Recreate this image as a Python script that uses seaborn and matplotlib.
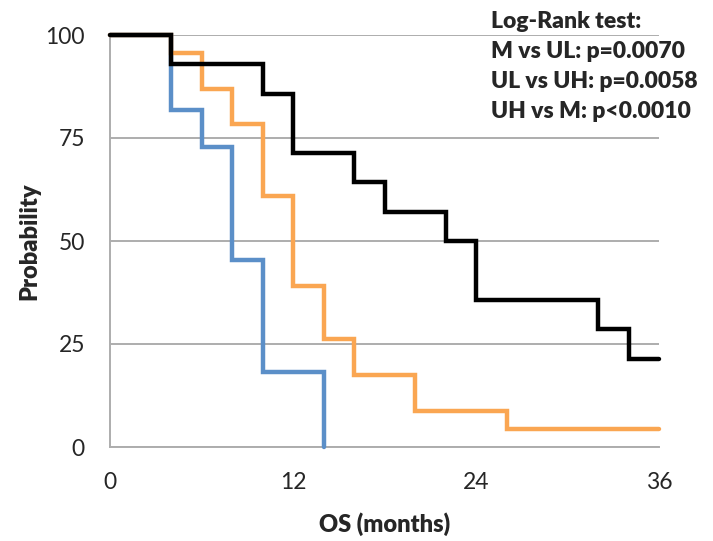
import matplotlib
matplotlib.use("Agg")
import matplotlib.pyplot as plt
import seaborn as sns
import pandas as pd

# ---- data ----
m_time = [0, 4, 10, 12, 16, 18, 22, 24, 32, 34, 36]
m_surv = [100, 92.9, 85.7, 71.4, 64.3, 57.1, 50.0, 35.7, 28.6, 21.4, 21.4]
ul_time = [0, 4, 6, 8, 10, 12, 14, 16, 20, 26, 36]
ul_surv = [100, 95.7, 87.0, 78.3, 60.9, 39.1, 26.1, 17.4, 8.7, 4.3, 4.3]
uh_time = [0, 4, 6, 8, 10, 14]
uh_surv = [100, 81.8, 72.7, 45.5, 18.2, 0]

x_ticks = [0, 12, 24, 36]
y_ticks = [0, 25, 50, 75, 100]
annot_lines = ["Log-Rank test:", "M vs UL: p=0.0070", "UL vs UH: p=0.0058", "UH vs M: p<0.0010"]

sns.set_style("white")
plt.rcParams['font.family'] = ['Lato', 'DejaVu Sans']

fig = plt.figure(figsize=(7.13, 5.41), dpi=100)
ax = fig.add_axes([110/713, (541-447)/541, 549/713, 412/541])

grid_c = "#ADADAD"
for y in y_ticks:
    ax.axhline(y, color=grid_c, lw=1.4, zorder=0)

series = [
    (uh_time, uh_surv, "#5B8FC8"),
    (ul_time, ul_surv, "#FAA652"),
    (m_time, m_surv, "#000000"),
]
for t, s, c in series:
    df = pd.DataFrame({"t": t, "s": s})
    sns.lineplot(data=df, x="t", y="s", ax=ax, color=c, lw=3.2,
                 drawstyle="steps-post", clip_on=False, zorder=3,
                 solid_joinstyle="miter")

ax.set_xlim(0, 36)
ax.set_ylim(0, 100)
ax.set_xticks(x_ticks)
ax.set_yticks(y_ticks)
ax.tick_params(axis="both", direction="out", length=6, width=1.4, color=grid_c,
               labelsize=16.5)
ax.tick_params(axis="x", pad=12)
ax.tick_params(axis="y", pad=12)
for side in ["top", "right"]:
    ax.spines[side].set_visible(False)
for side in ["left", "bottom"]:
    ax.spines[side].set_color(grid_c)
    ax.spines[side].set_linewidth(1.4)

ax.set_xlabel("OS (months)", fontsize=17, fontweight="heavy", labelpad=14)
ax.set_ylabel("Probability", fontsize=17, fontweight="heavy", labelpad=4)

for i, line in enumerate(annot_lines):
    fig.text(491/713, 1 - (22 + 30*i)/541, line, fontsize=16.5, fontweight="heavy",
             ha="left", va="center")

fig.savefig("out.png", dpi=100)
